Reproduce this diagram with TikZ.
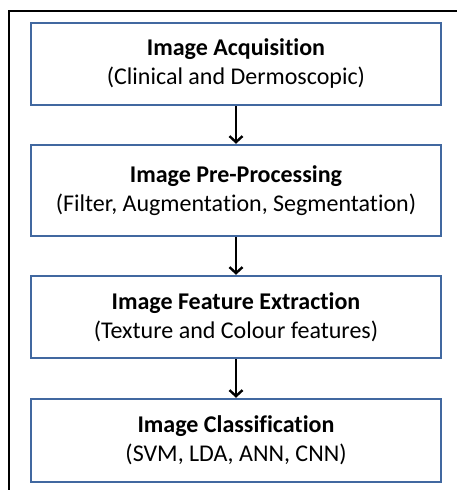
\documentclass[tikz,border=0pt]{standalone}
\usepackage{fontspec}
\setmainfont{Carlito}[RawFeature={-liga}]
\usetikzlibrary{arrows.meta}
\definecolor{boxblue}{RGB}{65,104,160}
\begin{document}
\begin{tikzpicture}[x=1pt,y=-1pt,
  stepbox/.style={draw=boxblue,line width=2.5pt,fill=white,minimum width=410pt,inner sep=0pt,align=center,font=\fontsize{24}{29}\selectfont},
  flow/.style={line width=2.6pt,-{Straight Barb[length=6pt,width=13pt,line width=2.4pt]}}]
\useasboundingbox (0,0) rectangle (456,490);
\fill[white] (0,0) rectangle (456,490);
\draw[line width=2.2pt] (9,520) -- (9,11) -- (480,11);
\node[stepbox,minimum height=82pt] (b1) at (236,64) {\textbf{Image Acquisition}\\(Clinical and Dermoscopic)};
\node[stepbox,minimum height=91pt] (b2) at (236,190.5) {\textbf{Image Pre-Processing}\\(Filter, Augmentation, Segmentation)};
\node[stepbox,minimum height=82pt] (b3) at (236,317) {\textbf{Image Feature Extraction}\\(Texture and Colour features)};
\node[stepbox,minimum height=83pt] (b4) at (236,440.5) {\textbf{Image Classification}\\(SVM, LDA, ANN, CNN)};
\draw[flow] (b1) -- (b2);
\draw[flow] (b2) -- (b3);
\draw[flow] (b3) -- (b4);
\end{tikzpicture}
\end{document}
